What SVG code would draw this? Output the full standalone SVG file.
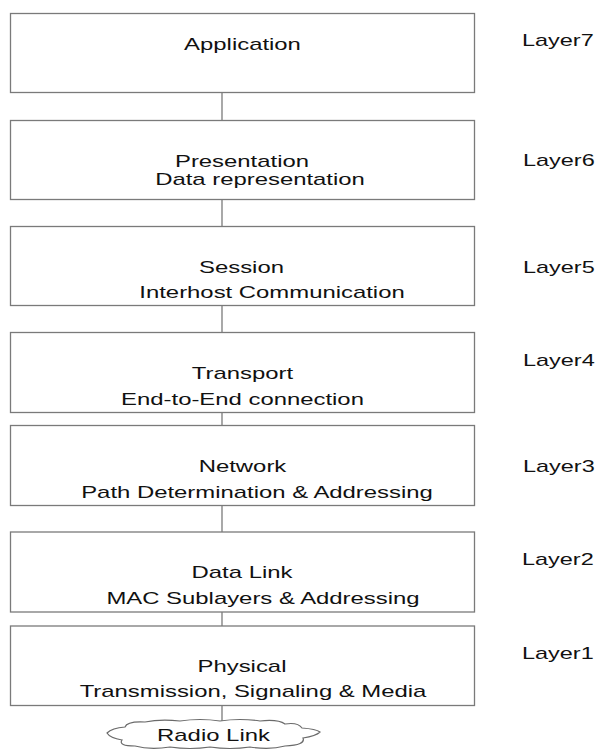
<svg xmlns="http://www.w3.org/2000/svg" width="600" height="750" viewBox="0 0 600 750">
<style>
.box{fill:#fff;stroke:#7a7a7a;stroke-width:1.3}
.con{stroke:#7a7a7a;stroke-width:1.3;fill:none}
text{font-family:"Liberation Sans",Arial,sans-serif;font-size:17px;fill:#111}
.c{text-anchor:middle}
.cloud{fill:#fff;stroke:#6a6a6a;stroke-width:1.2}
</style>
<rect width="600" height="750" fill="#fff"/>
<g id="connectors">
<line class="con" x1="222" y1="92.5" x2="222" y2="120.5"/>
<line class="con" x1="222" y1="199.5" x2="222" y2="226.5"/>
<line class="con" x1="222" y1="305.5" x2="222" y2="332.5"/>
<line class="con" x1="222" y1="412.5" x2="222" y2="425.5"/>
<line class="con" x1="222" y1="505.5" x2="222" y2="532"/>
<line class="con" x1="222" y1="612" x2="222" y2="626"/>
<line class="con" x1="222" y1="705.5" x2="222" y2="722"/>
</g>
<g id="application">
<rect class="box" x="10.5" y="13.5" width="464" height="79"/>
<text class="c" transform="matrix(1.405 0 0 1 242.5 50)">Application</text>
</g>
<g id="presentation">
<rect class="box" x="10.5" y="120.5" width="464" height="79"/>
<text class="c" transform="matrix(1.405 0 0 1 242 166.5)">Presentation</text>
<text class="c" transform="matrix(1.405 0 0 1 260 185)">Data representation</text>
</g>
<g id="session">
<rect class="box" x="10.5" y="226.5" width="464" height="79"/>
<text class="c" transform="matrix(1.405 0 0 1 241.5 272.5)">Session</text>
<text class="c" transform="matrix(1.405 0 0 1 272 298)">Interhost Communication</text>
</g>
<g id="transport">
<rect class="box" x="10.5" y="332.5" width="464" height="80"/>
<text class="c" transform="matrix(1.405 0 0 1 242.5 379)">Transport</text>
<text class="c" transform="matrix(1.405 0 0 1 242.5 405)">End-to-End connection</text>
</g>
<g id="network">
<rect class="box" x="10.5" y="425.5" width="464" height="80"/>
<text class="c" transform="matrix(1.405 0 0 1 242.5 472)">Network</text>
<text class="c" transform="matrix(1.405 0 0 1 257 497.5)">Path Determination &amp; Addressing</text>
</g>
<g id="datalink">
<rect class="box" x="10.5" y="532" width="464" height="80"/>
<text class="c" transform="matrix(1.405 0 0 1 242 578)">Data Link</text>
<text class="c" transform="matrix(1.405 0 0 1 263 604)">MAC Sublayers &amp; Addressing</text>
</g>
<g id="physical">
<rect class="box" x="10.5" y="626" width="464" height="79.5"/>
<text class="c" transform="matrix(1.405 0 0 1 242 672)">Physical</text>
<text class="c" transform="matrix(1.405 0 0 1 253 697)">Transmission, Signaling &amp; Media</text>
</g>
<g id="radiolink">
<path class="cloud" d="M107,733 Q112,728 125,727 Q127,721 145,722 Q160,719 180,721 Q200,718 220,721 Q240,718 260,721 Q278,719 285,724 Q298,722 302,728 Q316,729 320,732 Q316,736 303,738 Q306,745 285,746 Q270,750 250,747 Q230,750 210,747 Q190,750 170,747 Q150,750 135,746 Q118,746 122,740 Q110,738 107,733 Z"/>
<text class="c" transform="matrix(1.405 0 0 1 213.5 741)">Radio Link</text>
</g>
<g id="layer-labels">
<text transform="matrix(1.38 0 0 1 522 46)">Layer7</text>
<text transform="matrix(1.38 0 0 1 523 166)">Layer6</text>
<text transform="matrix(1.38 0 0 1 523 272.5)">Layer5</text>
<text transform="matrix(1.38 0 0 1 523 366)">Layer4</text>
<text transform="matrix(1.38 0 0 1 523 472)">Layer3</text>
<text transform="matrix(1.38 0 0 1 522 565)">Layer2</text>
<text transform="matrix(1.38 0 0 1 522 659)">Layer1</text>
</g>
</svg>
